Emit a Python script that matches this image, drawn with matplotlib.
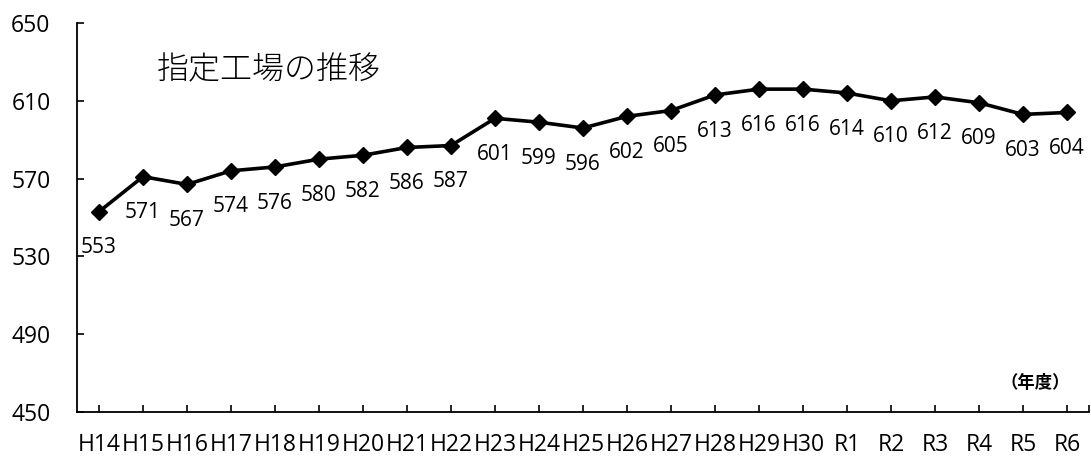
import matplotlib
matplotlib.use("Agg")
import matplotlib.pyplot as plt

plt.rcParams['font.family'] = ['Open Sans', 'Noto Sans CJK JP', 'DejaVu Sans']

years = ["H14", "H15", "H16", "H17", "H18", "H19", "H20", "H21", "H22", "H23", "H24",
         "H25", "H26", "H27", "H28", "H29", "H30", "R1", "R2", "R3", "R4", "R5", "R6"]
factories = [553, 571, 567, 574, 576, 580, 582, 586, 587, 601, 599,
             596, 602, 605, 613, 616, 616, 614, 610, 612, 609, 603, 604]
y_ticks = [450, 490, 530, 570, 610, 650]

fig = plt.figure(figsize=(10.91, 4.59), dpi=100)
ax = fig.add_axes([77/1091, 1 - 412/459, 1012/1091, 389/459])

x = list(range(len(years)))
ax.plot(x, factories, color='black', lw=2.6, marker='D', markersize=8.5, zorder=3)

for xi, v in zip(x, factories):
    ax.annotate(str(v), (xi, v), xytext=(0, -26), textcoords='offset points',
                ha='center', va='center', fontsize=15)

ax.set_xlim(-0.5, len(years) - 0.5)
ax.set_ylim(450, 650)
ax.set_yticks(y_ticks)
ax.set_xticks(x + [len(years) - 0.5])
ax.set_xticklabels(years + [""])
ax.tick_params(axis='x', direction='in', length=5, width=1.2, pad=15, labelsize=16.5)
ax.tick_params(axis='y', direction='in', length=5, width=1.2, pad=19, labelsize=16.5)

for s in ['top', 'right']:
    ax.spines[s].set_visible(False)
for s in ['left', 'bottom']:
    ax.spines[s].set_linewidth(1.3)
    ax.spines[s].set_color('black')

fig.text(269/1091, 1 - 70/459, "指定工場の推移", ha='center', va='center',
         fontsize=23, family=['Noto Sans CJK JP'], fontweight='light')
fig.text(1035/1091, 1 - 383/459, "（年度）", ha='center', va='center',
         fontsize=12.5, family=['Noto Sans CJK JP'], fontweight='bold')

fig.savefig("out.png", dpi=100)
